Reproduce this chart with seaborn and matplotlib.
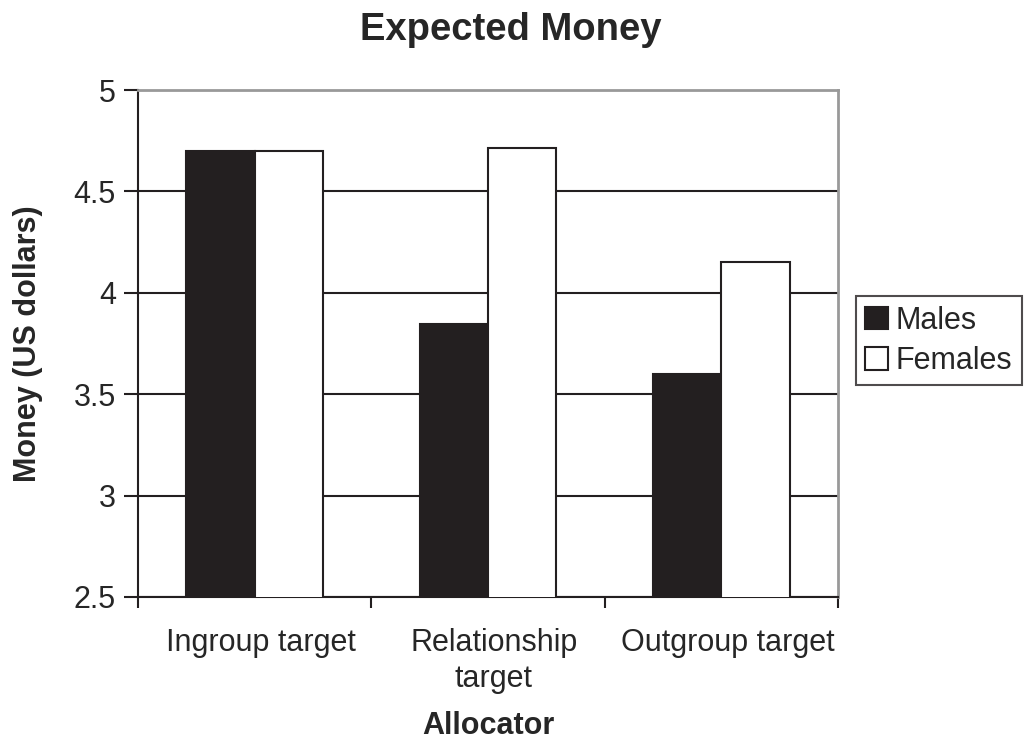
import pandas as pd
import matplotlib
matplotlib.use("Agg")
import matplotlib.pyplot as plt
import matplotlib.transforms as mtransforms
import seaborn as sns

allocators = ["Ingroup target", "Relationship\ntarget", "Outgroup target"]
genders = ["Males", "Females"]
males = [4.70, 3.845, 3.60]
females = [4.70, 4.715, 4.15]

df = pd.DataFrame({
    "Allocator": allocators * 2,
    "Gender": ["Males"] * 3 + ["Females"] * 3,
    "Money": males + females,
})

sns.set_style("white")
plt.rcParams["font.family"] = ["Liberation Sans", "DejaVu Sans"]

fig = plt.figure(figsize=(10.26, 7.41), dpi=100)
ax = fig.add_axes([138 / 1026, 1 - 597 / 741, 700 / 1026, 507 / 741])

sns.barplot(data=df, x="Allocator", y="Money", hue="Gender", hue_order=genders,
            palette={"Males": "#231f20", "Females": "white"}, width=0.585,
            edgecolor="#231f20", linewidth=1.5, saturation=1, ax=ax, zorder=3)

ax.set_ylim(2.5, 5)
ax.set_yticks([2.5, 3, 3.5, 4, 4.5, 5])
ax.set_yticklabels(["2.5", "3", "3.5", "4", "4.5", "5"])
ax.set_xlim(-0.5, 2.5)
ax.yaxis.grid(True, color="#231f20", linewidth=1.5, zorder=0)
ax.set_axisbelow(True)

# category ticks between groups, like the original
ax.set_xticks([0, 1, 2])
ax.set_xticklabels(allocators, fontsize=22, linespacing=1.3)
ax.set_xticks([-0.5, 0.5, 1.5, 2.5], minor=True)
ax.tick_params(axis="x", which="both", bottom=True)
ax.tick_params(axis="x", which="major", length=0, pad=22)
ax.tick_params(axis="x", which="minor", length=8, width=1.5, color="#231f20", direction="out")
ax.tick_params(axis="y", left=True, length=10, width=1.5, color="#231f20", direction="out",
               labelsize=22, pad=6)
shift = mtransforms.ScaledTranslation(6 / 100, 0, fig.dpi_scale_trans)
for lab in ax.get_xticklabels():
    lab.set_transform(lab.get_transform() + shift)

for s in ["left", "bottom"]:
    ax.spines[s].set_color("#231f20")
    ax.spines[s].set_linewidth(1.5)
for s in ["top", "right"]:
    ax.spines[s].set_color("#999999")
    ax.spines[s].set_linewidth(2)

ax.set_xlabel("Allocator", fontsize=22, fontweight="bold", labelpad=12)
ax.set_ylabel("Money (US dollars)", fontsize=22, fontweight="bold", labelpad=22)
ax.set_title("Expected Money", fontsize=27.5, fontweight="bold", pad=36, x=0.533)

leg = ax.legend(loc="center left", bbox_to_anchor=(1.026, 0.505), fontsize=22,
                frameon=True, fancybox=False, handlelength=0.75, handleheight=0.75,
                handletextpad=0.25, borderpad=0.3, labelspacing=0.35, borderaxespad=0)
leg.get_frame().set_edgecolor("#231f20")
leg.get_frame().set_linewidth(1.5)

fig.savefig("out.png", dpi=100)
